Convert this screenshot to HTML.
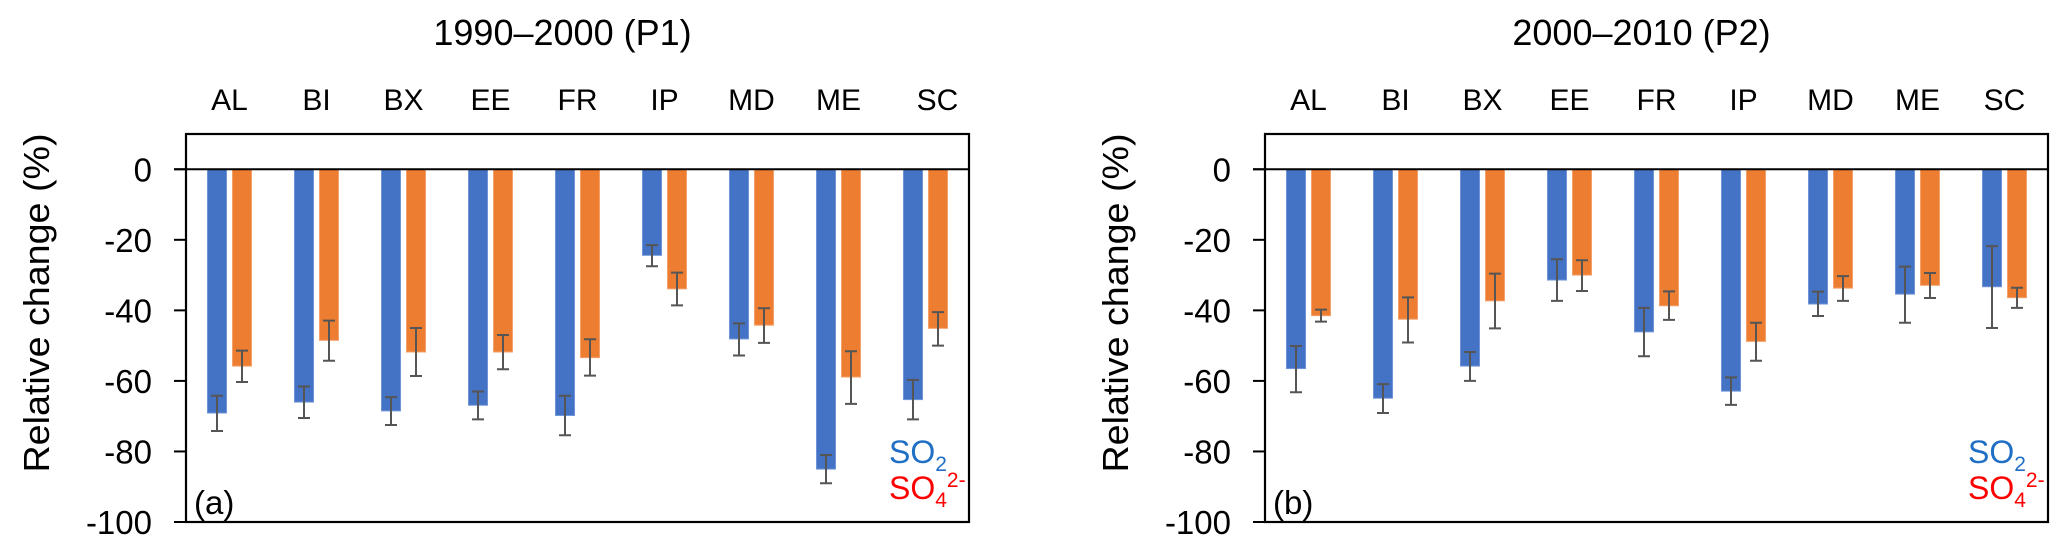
<!DOCTYPE html>
<html><head><meta charset="utf-8"><style>
body{margin:0;background:#fff;}
svg{display:block;font-family:"Liberation Sans",Arial,sans-serif;}
</style></head><body>
<svg id="chart" width="2067" height="551" viewBox="0 0 2067 551"></svg>
<script>
const categories = ["AL","BI","BX","EE","FR","IP","MD","ME","SC"];
const p1SO2 = [-69.1,-66.0,-68.5,-66.9,-69.8,-24.4,-48.1,-85.0,-65.3];
const p1SO2Lo = [-64.2,-61.6,-64.6,-63.0,-64.2,-21.5,-43.7,-81.0,-59.7];
const p1SO2Hi = [-74.2,-70.5,-72.5,-70.9,-75.4,-27.5,-52.8,-89.0,-70.9];
const p1SO4 = [-55.8,-48.5,-51.8,-51.8,-53.4,-33.9,-44.2,-58.9,-45.1];
const p1SO4Lo = [-51.4,-42.9,-45.0,-47.0,-48.2,-29.3,-39.4,-51.6,-40.5];
const p1SO4Hi = [-60.3,-54.3,-58.6,-56.7,-58.5,-38.6,-49.2,-66.5,-50.0];
const p2SO2 = [-56.5,-64.9,-55.8,-31.4,-46.1,-62.9,-38.2,-35.4,-33.3];
const p2SO2Lo = [-50.1,-60.9,-51.8,-25.5,-39.3,-59.0,-34.7,-27.6,-21.8];
const p2SO2Hi = [-63.2,-69.1,-60.0,-37.3,-53.0,-66.8,-41.6,-43.5,-45.0];
const p2SO4 = [-41.5,-42.5,-37.3,-30.0,-38.7,-48.8,-33.7,-32.9,-36.4];
const p2SO4Lo = [-39.8,-36.3,-29.6,-25.8,-34.6,-43.5,-30.3,-29.4,-33.6];
const p2SO4Hi = [-43.2,-49.1,-45.1,-34.5,-42.7,-54.3,-37.3,-36.5,-39.3];
const yTicks = [0,-20,-40,-60,-80,-100];

const NS="http://www.w3.org/2000/svg";
const svg=document.getElementById('chart');
function mk(tag,attrs,parent){const e=document.createElementNS(NS,tag);for(const k in attrs)e.setAttribute(k,attrs[k]);(parent||svg).appendChild(e);return e;}
const Y_TOP=10,Y_BOT=-100,PT=134,PB=522;
function y(v){return PT+(Y_TOP-v)/(Y_TOP-Y_BOT)*(PB-PT);}

function panel(left,right,title,letter,so2,so2lo,so2hi,so4,so4lo,so4hi,id){
  const g=mk('g',{});
  
  
  const step=(right-left)/categories.length;
  function x(i){return left+step*(i+0.5);}
  const t=mk('text',{x:(left+right)/2-15,y:45,'text-anchor':'middle','font-size':36,fill:'#000'},g);
  t.textContent=title;
  
  
  const yl=mk('text',{x:0,y:0,'text-anchor':'middle','font-size':36,fill:'#000',transform:`translate(${left-137},303) rotate(-90)`,textLength:339,lengthAdjust:'spacingAndGlyphs'},g);
  yl.textContent='Relative change (%)';
  
  
  yTicks.forEach(v=>{
    const tk=mk('line',{x1:left-12,x2:left,y1:y(v),y2:y(v),stroke:'#000','stroke-width':2},g);
    
    
    const tl=mk('text',{x:left-34,y:y(v)+12,'text-anchor':'end','font-size':33,fill:'#000'},g);
    tl.textContent=String(v);
    
    
  });
  categories.forEach((c,i)=>{
    const off=(id==='p1'&&c==='SC')?12:0;
    const cl=mk('text',{x:x(i)+off,y:110,'text-anchor':'middle','font-size':30,fill:'#000'},g);
    cl.textContent=c;
    
    
    const bw=19;
    [[so2,so2lo,so2hi,'#4472C4','#6f95d8',-12.5,'so2'],[so4,so4lo,so4hi,'#ED7D31','#f4a06b',12.5,'so4']].forEach(s=>{
      const cx=x(i)+s[5];
      const b=mk('rect',{x:cx-bw/2,y:y(0),width:bw,height:y(s[0][i])-y(0),fill:s[3],stroke:s[4],'stroke-width':1},g);
      
      
      const e=mk('path',{d:`M${cx} ${y(s[1][i])}V${y(s[2][i])}M${cx-6} ${y(s[1][i])}H${cx+6}M${cx-6} ${y(s[2][i])}H${cx+6}`,stroke:'#555','stroke-width':2,fill:'none'},g);
      
      
    });
  });
  const box=mk('rect',{x:left,y:PT,width:right-left,height:PB-PT,fill:'none',stroke:'#000','stroke-width':2.2},g);
  
  
  const zl=mk('line',{x1:left-12,x2:right,y1:y(0),y2:y(0),stroke:'#000','stroke-width':2},g);
  
  
  const bl=mk('line',{x1:left-12,x2:left,y1:PB,y2:PB,stroke:'#000','stroke-width':2},g);
  
  
  const pl=mk('text',{x:left+8,y:514,'font-size':33,fill:'#000'},g);
  pl.textContent=letter;
  
  
  const lx=right-80;
  const l1=mk('text',{x:lx,y:463,'font-size':32,fill:'#1f6fc5'},g);
  l1.innerHTML='SO<tspan font-size="21" dy="8">2</tspan>';
  
  
  const l2=mk('text',{x:lx,y:499,'font-size':32,fill:'#ff0000'},g);
  l2.innerHTML='SO<tspan font-size="21" dy="8">4</tspan><tspan font-size="21" dy="-20">2-</tspan>';
  
  
}
panel(186,969,'1990–2000 (P1)','(a)',p1SO2,p1SO2Lo,p1SO2Hi,p1SO4,p1SO4Lo,p1SO4Hi,'p1');
panel(1265,2048,'2000–2010 (P2)','(b)',p2SO2,p2SO2Lo,p2SO2Hi,p2SO4,p2SO4Lo,p2SO4Hi,'p2');
</script>
</body></html>
